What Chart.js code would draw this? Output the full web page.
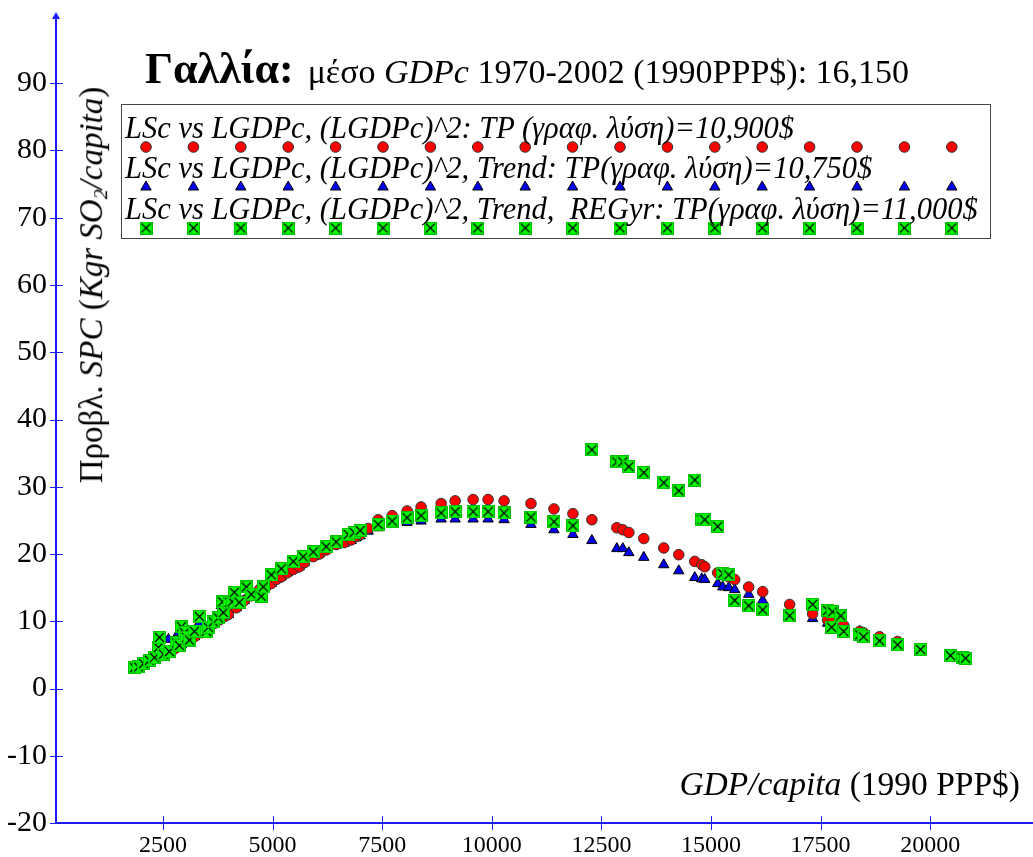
<!DOCTYPE html>
<html>
<head>
<meta charset="utf-8">
<script src="https://cdn.jsdelivr.net/npm/chart.js@4.4.0/dist/chart.umd.min.js"></script>
<style>
  html, body { margin: 0; padding: 0; background: #fff; }
  #wrap { position: relative; width: 1033px; height: 857px; font-family: 'Liberation Serif', 'Times New Roman', serif; color: #000; }
  #chart { position: absolute; left: 0; top: 0; }
  .txt { position: absolute; white-space: nowrap; line-height: 1; }
  .leg { font-size: 30.5px; font-style: italic; left: 125px; }
  sub { font-size: 0.6em; vertical-align: -0.25em; }
</style>
</head>
<body>
<div id="wrap">
  <canvas id="chart" width="1033" height="857"></canvas>

  <div class="txt" style="left:145px; top:47px;"><b style="font-size:44px;">Γαλλία:</b><span style="font-size:34px; margin-left:14px;">μέσο <i>GDPc</i> 1970-2002 (1990PPP$): 16,150</span></div>

  <div class="txt leg" style="top:113px;">LSc vs LGDPc, (LGDPc)^2: TP (γραφ. λύση)=10,900$</div>
  <div class="txt leg" style="top:153px;">LSc vs LGDPc, (LGDPc)^2, Trend: TP(γραφ. λύση)=10,750$</div>
  <div class="txt leg" style="top:194px;">LSc vs LGDPc, (LGDPc)^2, Trend,&nbsp; REGyr: TP(γραφ. λύση)=11,000$</div>

  <div class="txt" style="left:93px; top:285px; font-size:33px; transform: translate(-50%, -50%) rotate(-90deg);">Προβλ. <i>SPC</i> (<i>Kgr SO<sub>2</sub>/capita</i>)</div>

  <div class="txt" style="right:13px; top:767px; font-size:33.5px;"><i>GDP/capita</i> (1990 PPP$)</div>
</div>

<script>
// ── Data ──────────────────────────────────────────────────────────────
const xTicks = [2500, 5000, 7500, 10000, 12500, 15000, 17500, 20000];
const yTicks = [-20, -10, 0, 10, 20, 30, 40, 50, 60, 70, 80, 90];

// LSc vs LGDPc, (LGDPc)^2
const gdpRed = [1850, 2009, 2169, 2305, 2465, 2624, 2761, 2920, 3080, 3217, 3376, 3535, 3672, 3786, 3900, 3991,
  4173, 4356, 4515, 4697, 4834, 4971, 5085, 5198, 5335, 5472, 5608, 5722, 5927, 6064, 6223, 6451, 6634, 6793,
  6907, 6998, 7180, 7408, 7727, 8069, 8388, 8845, 9164, 9574, 9916, 10280, 10894, 11418, 11851, 12283, 12852,
  12989, 13126, 13467, 13923, 14265, 14630, 14790, 14858, 15154, 15268, 15405, 15541, 15860, 16179, 16794,
  17318, 17660, 17774, 18025, 18389, 18480, 18845, 19255, 19779, 20463, 20737, 20805];
const spcRed = [3.1, 3.6, 4.0, 4.5, 4.9, 5.5, 5.9, 6.5, 7.1, 7.7, 8.3, 9.1, 9.7, 10.2, 10.7, 11.0,
  12.0, 13.1, 13.8, 14.7, 15.1, 15.6, 16.2, 16.6, 17.2, 17.7, 18.1, 18.7, 19.6, 20.0, 20.6, 21.4, 21.7, 22.1,
  22.6, 22.9, 23.8, 25.1, 25.7, 26.4, 27.0, 27.5, 27.9, 28.1, 28.1, 27.9, 27.5, 26.7, 26.0, 25.1, 23.9,
  23.6, 23.2, 22.3, 20.9, 19.9, 18.9, 18.4, 18.1, 17.2, 16.9, 16.6, 16.2, 15.1, 14.4, 12.5,
  11.1, 10.2, 10.1, 9.4, 8.5, 8.3, 7.7, 7.0, 5.8, 4.9, 4.6, 4.5];

// LSc vs LGDPc, (LGDPc)^2, Trend
const gdpBlue = [1850, 2009, 2169, 2305, 2419, 2465, 2624, 2624, 2761, 2852, 2920, 3080, 3217, 3331, 3376, 3535,
  3672, 3786, 3832, 3900, 3991, 4173, 4356, 4515, 4697, 4834, 4971, 5085, 5198, 5335, 5472, 5608, 5722, 5927,
  6064, 6223, 6451, 6634, 6793, 6907, 6998, 7180, 7408, 7727, 8069, 8388, 8845, 9164, 9574, 9916, 10280,
  10894, 11418, 11851, 12283, 12852, 12989, 13126, 13467, 13923, 14265, 14630, 14790, 14858, 15154, 15268,
  15405, 15541, 15860, 16179, 16794, 17318, 17660, 17774, 18025, 18389, 18480, 18845, 19255, 19779, 20463,
  20737, 20805];
const spcBlue = [3.1, 3.6, 4.0, 4.5, 6.8, 4.9, 5.5, 7.3, 5.9, 8.3, 6.5, 7.1, 7.7, 9.8, 8.3, 9.1,
  9.7, 10.2, 12.3, 10.7, 11.0, 12.0, 13.1, 13.8, 14.7, 15.1, 15.6, 16.2, 16.6, 17.2, 17.7, 18.1, 18.7, 19.6,
  20.0, 20.6, 21.3, 21.6, 22.0, 22.4, 22.7, 23.4, 23.9, 24.4, 24.7, 24.9, 25.2, 25.2, 25.2, 25.2, 25.1,
  24.4, 23.6, 22.9, 22.0, 20.8, 20.8, 20.2, 19.5, 18.4, 17.5, 16.5, 16.3, 16.2, 15.6, 15.1,
  15.0, 14.7, 14.0, 13.1, 11.7, 10.4, 9.7, 9.5, 9.1, 8.5, 8.2, 7.4, 6.7, 5.8, 4.9,
  4.6, 4.5];

// LSc vs LGDPc, (LGDPc)^2, Trend, REGyr
const gdpGreen = [1850, 1941, 2055, 2192, 2305, 2396, 2419, 2510, 2647, 2806, 2875, 2920, 2989, 3034, 3103, 3217,
  3331, 3490, 3535, 3649, 3763, 3860, 3877, 4013, 4080, 4127, 4241, 4400, 4515, 4743, 4788, 4971, 5198,
  5472, 5699, 5927, 6223, 6451, 6725, 6861, 6998, 7408, 7727, 8069, 8388, 8845, 9164, 9574, 9916, 10280,
  10894, 11418, 11851, 12283, 12852, 12989, 13126, 13467, 13923, 14265, 14630, 14790, 14858, 15154, 15268,
  15405, 15541, 15860, 16179, 16794, 17318, 17660, 17750, 17774, 17960, 18025, 18389, 18480, 18845, 19255,
  19779, 20463, 20737, 20805];
const spcGreen = [3.1, 3.2, 3.7, 4.2, 4.6, 6.1, 7.6, 5.1, 5.5, 6.8, 6.4, 9.2, 8.3, 7.6, 7.2, 8.5,
  10.7, 8.5, 9.1, 9.9, 10.5, 12.9, 11.3, 12.8, 12.9, 14.3, 12.8, 15.1, 14.0, 13.7, 15.1, 16.9, 17.8,
  18.9, 19.6, 20.3, 21.1, 21.8, 22.9, 23.2, 23.5, 24.4, 24.9, 25.4, 25.7, 26.1, 26.3, 26.3, 26.3, 26.1,
  25.5, 24.8, 24.2, 35.5, 33.7, 33.7, 33.0, 32.1, 30.6, 29.4, 31.0, 25.1, 25.1, 24.1, 17.1,
  16.9, 13.1, 12.3, 11.7, 10.8, 12.5, 11.6, 9.1, 11.4, 10.8, 8.5, 8.0, 7.7, 7.1, 6.5,
  5.8, 4.9, 4.6, 4.5];

// ── Styles ────────────────────────────────────────────────────────────
const axisBlue = '#1c1cff';
const serif = "'Liberation Serif', 'Times New Roman', serif";

// green square with a black cross
function makeCrossBox() {
  const c = document.createElement('canvas');
  c.width = 13; c.height = 13;
  const g = c.getContext('2d');
  g.fillStyle = '#00ff00';
  g.fillRect(0, 0, 13, 13);
  g.strokeStyle = 'rgba(0,0,0,0.25)';
  g.lineWidth = 1;
  g.strokeRect(0.5, 0.5, 12, 12);
  g.strokeStyle = '#000';
  g.lineWidth = 1.3;
  g.beginPath();
  g.moveTo(2, 2); g.lineTo(11, 11);
  g.moveTo(11, 2); g.lineTo(2, 11);
  g.stroke();
  return c;
}
const crossBox = makeCrossBox();

const pts = (xs, ys) => xs.map((x, i) => ({ x, y: ys[i] }));

const series = [
  { label: 'LSc vs LGDPc, (LGDPc)^2: TP (γραφ. λύση)=10,900$', data: pts(gdpRed, spcRed),
    pointStyle: 'circle', pointRadius: 5.3, backgroundColor: '#ff0000', borderColor: '#333', borderWidth: 1, order: 1 },
  { label: 'LSc vs LGDPc, (LGDPc)^2, Trend: TP(γραφ. λύση)=10,750$', data: pts(gdpBlue, spcBlue),
    pointStyle: 'triangle', pointRadius: 6, backgroundColor: '#0000ee', borderColor: '#000', borderWidth: 1, order: 2 },
  { label: 'LSc vs LGDPc, (LGDPc)^2, Trend,  REGyr: TP(γραφ. λύση)=11,000$', data: pts(gdpGreen, spcGreen),
    pointStyle: crossBox, pointRadius: 6.5, backgroundColor: '#00ff00', borderColor: '#000', borderWidth: 1, order: 0 },
];

// axis tick marks crossing the axis lines, arrow on top, legend box with marker rows
const decorations = {
  id: 'decorations',
  afterDraw(chart) {
    const { ctx, chartArea: ca, scales: { x, y } } = chart;
    ctx.save();
    ctx.strokeStyle = axisBlue;
    ctx.lineWidth = 1;
    yTicks.forEach(v => {
      const py = Math.round(y.getPixelForValue(v)) + 0.5;
      ctx.beginPath(); ctx.moveTo(ca.left - 6, py); ctx.lineTo(ca.left + 7, py); ctx.stroke();
    });
    xTicks.forEach(v => {
      const px = Math.round(x.getPixelForValue(v)) + 0.5;
      ctx.beginPath(); ctx.moveTo(px, ca.bottom - 7); ctx.lineTo(px, ca.bottom + 7); ctx.stroke();
    });
    // arrow
    ctx.fillStyle = axisBlue;
    ctx.beginPath();
    ctx.moveTo(ca.left, ca.top - 4);
    ctx.lineTo(ca.left - 4, ca.top + 3);
    ctx.lineTo(ca.left + 4, ca.top + 3);
    ctx.closePath();
    ctx.fill();

    // legend box
    ctx.fillStyle = '#fff';
    ctx.fillRect(121.5, 104.5, 869, 134);
    ctx.strokeStyle = '#444';
    ctx.lineWidth = 1;
    ctx.strokeRect(121.5, 104.5, 869, 134);
    const rows = [147, 187, 228];
    series.forEach((s, r) => {
      for (let i = 0; i < 18; i++) {
        const px = 146 + i * 47.4;
        ctx.fillStyle = s.backgroundColor;
        ctx.strokeStyle = s.borderColor;
        ctx.lineWidth = s.borderWidth;
        Chart.helpers.drawPoint(ctx, { pointStyle: s.pointStyle, radius: s.pointRadius, borderWidth: s.borderWidth }, px, rows[r]);
      }
    });
    ctx.restore();
  }
};

new Chart(document.getElementById('chart'), {
  type: 'scatter',
  data: { datasets: series },
  options: {
    responsive: false,
    animation: false,
    events: [],
    layout: { autoPadding: false, padding: { top: 16, left: 0, right: 0, bottom: 0 } },
    plugins: { legend: { display: false }, tooltip: { enabled: false } },
    scales: {
      x: {
        type: 'linear', min: 60, max: 22345,
        afterBuildTicks: s => { s.ticks = xTicks.map(v => ({ value: v })); },
        afterFit: s => { s.height = 34; s.paddingLeft = 0; s.paddingRight = 0; },
        grid: { display: false, drawTicks: false },
        border: { display: true, color: axisBlue, width: 2 },
        ticks: { color: '#000', font: { family: serif, size: 24 }, padding: 8, maxRotation: 0, autoSkip: false,
                 callback: v => String(v) },
      },
      y: {
        type: 'linear', min: -20, max: 100,
        afterBuildTicks: s => { s.ticks = yTicks.map(v => ({ value: v })); },
        afterFit: s => { s.width = 56; s.paddingTop = 0; s.paddingBottom = 0; },
        grid: { display: false, drawTicks: false },
        border: { display: true, color: axisBlue, width: 2 },
        ticks: { color: '#000', font: { family: serif, size: 30 }, padding: 9, autoSkip: false },
      },
    },
  },
  plugins: [decorations],
});
</script>
</body>
</html>
